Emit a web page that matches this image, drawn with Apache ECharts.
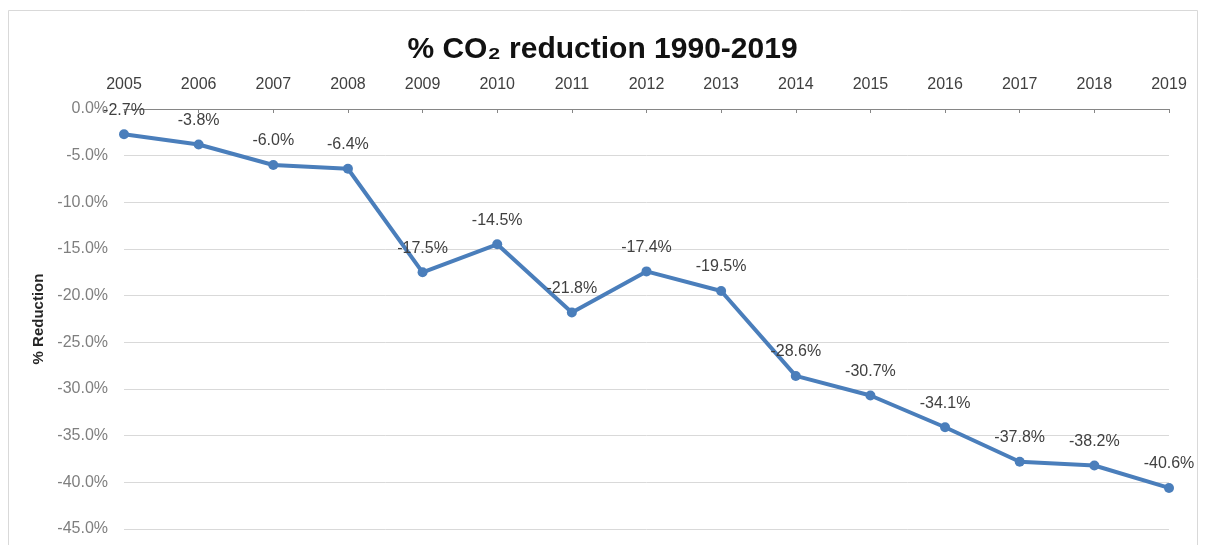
<!DOCTYPE html>
<html>
<head>
<meta charset="utf-8">
<script src="https://cdn.jsdelivr.net/npm/echarts@6/dist/echarts.min.js"></script>
<style>
  html, body { margin: 0; padding: 0; background: #fff; }
  #main { width: 1205px; height: 545px; }
</style>
</head>
<body>
<div id="main"></div>
<script>
// 数据
var years = ['2005', '2006', '2007', '2008', '2009', '2010', '2011', '2012', '2013', '2014', '2015', '2016', '2017', '2018', '2019'];
var reduction = [-2.7, -3.8, -6.0, -6.4, -17.5, -14.5, -21.8, -17.4, -19.5, -28.6, -30.7, -34.1, -37.8, -38.2, -40.6];

var myChart = echarts.init(document.getElementById('main'));
var font = '"Liberation Sans", Arial, sans-serif';

var option = {
    animation: false,
    backgroundColor: '#fff',
    textStyle: { fontFamily: font },
    title: {
        text: '% CO\u2082 reduction 1990-2019',
        left: 'center',
        top: 30,
        textStyle: { fontFamily: font, fontSize: 30, fontWeight: 'bold', color: '#111' }
    },
    graphic: [{
        type: 'rect',
        shape: { x: 8.5, y: 10.5, width: 1189, height: 560 },
        style: { fill: null, stroke: '#d9d9d9', lineWidth: 1 },
        silent: true
    }],
    grid: { left: 124, right: 36, top: 109, bottom: 16 },
    xAxis: {
        type: 'category',
        position: 'top',
        data: years,
        boundaryGap: false,
        axisLine: { lineStyle: { color: '#868686', width: 1 } },
        axisTick: { inside: true, length: 4, alignWithLabel: true, lineStyle: { color: '#868686' } },
        axisLabel: { margin: 16, fontSize: 16, color: '#404040', fontFamily: font },
        splitLine: { show: false }
    },
    yAxis: {
        type: 'value',
        min: -45,
        max: 0,
        interval: 5,
        name: '% Reduction',
        nameLocation: 'middle',
        nameGap: 75,
        nameTextStyle: { fontSize: 15, fontWeight: 'bold', color: '#262626', fontFamily: font },
        axisLine: { show: false },
        axisTick: { show: false },
        axisLabel: {
            margin: 16,
            fontSize: 16,
            color: '#7f7f7f',
            fontFamily: font,
            formatter: function (v) { return v.toFixed(1) + '%'; }
        },
        splitLine: { lineStyle: { color: '#d9d9d9', width: 1 } }
    },
    series: [{
        name: '% Reduction',
        type: 'line',
        data: reduction,
        symbol: 'circle',
        symbolSize: 10,
        lineStyle: { color: '#4a7ebb', width: 4 },
        itemStyle: { color: '#4a7ebb' },
        label: {
            show: true,
            position: 'top',
            distance: 11,
            fontSize: 16,
            color: '#404040',
            fontFamily: font,
            formatter: function (p) { return p.value.toFixed(1) + '%'; }
        }
    }]
};

myChart.setOption(option);
</script>
</body>
</html>
